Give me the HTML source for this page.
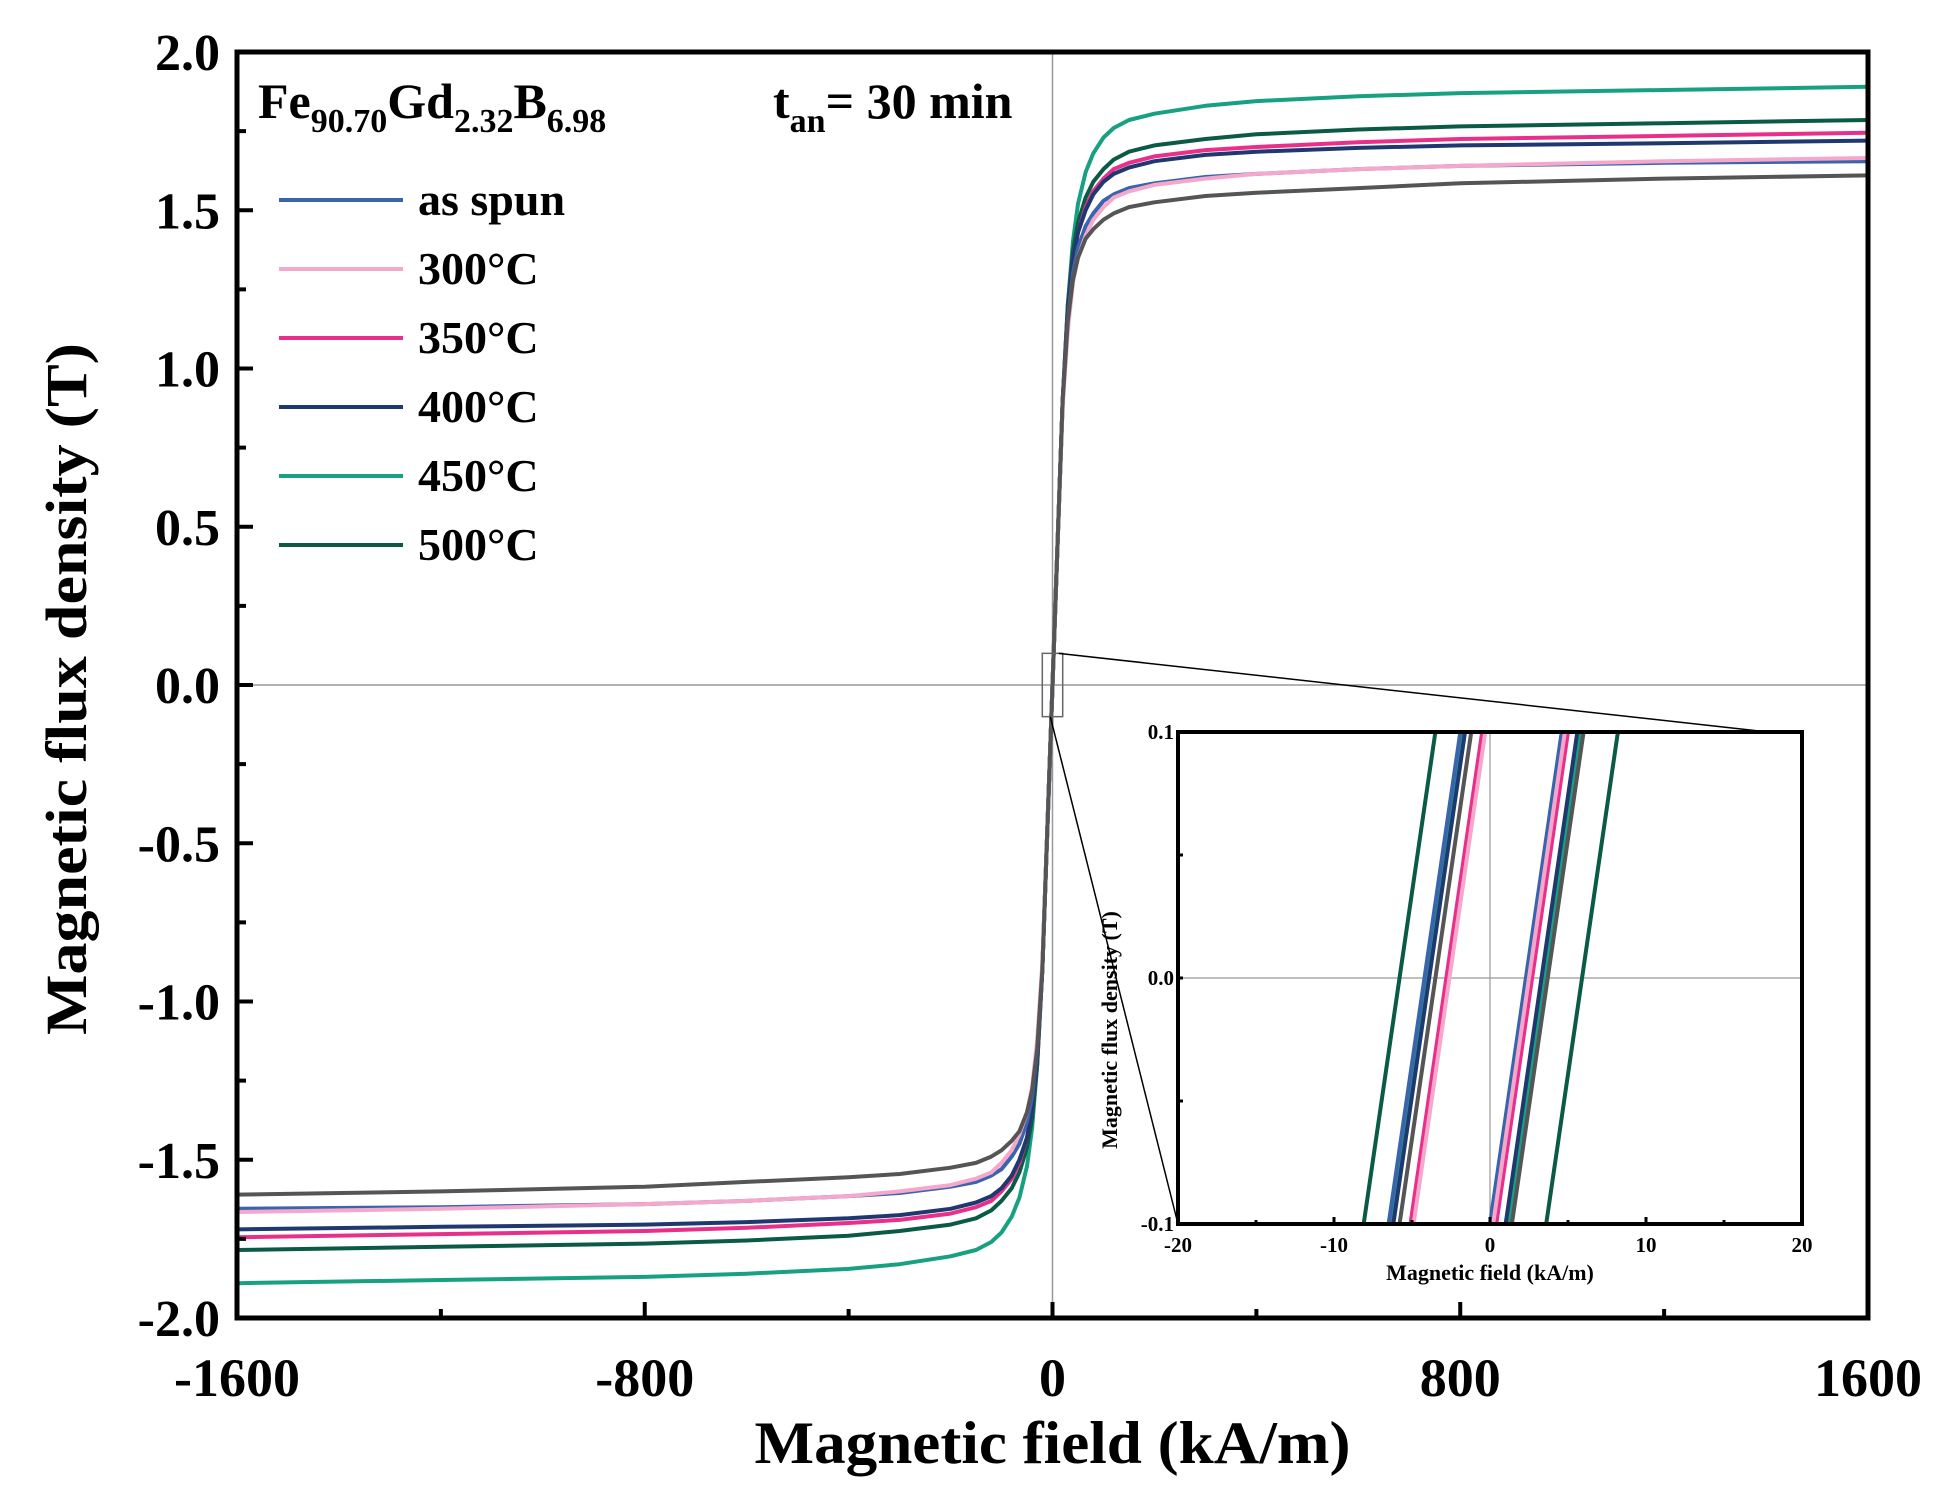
<!DOCTYPE html>
<html><head><meta charset="utf-8"><style>
html,body{margin:0;padding:0;background:#fff}
svg{display:block;font-family:"Liberation Serif",serif;font-weight:bold}
</style></head><body>
<svg id="chart" width="1945" height="1493" viewBox="0 0 1945 1493" xmlns="http://www.w3.org/2000/svg">
<g id="main"></g>
<g id="inset"></g>
</svg>
<script>
// ---- data ----
const seriesNames = ["450°C","500°C","350°C","400°C","as spun","300°C","unlabeled"];
const seriesColors = ["#17a081","#0a5a45","#e8308a","#203870","#3a64ac","#f6a8cc","#555555"];
const fieldGrid = [0,10,20,30,40,50,65,80,100,120,150,200,300,400,600,800,1200,1600];
const b450 = [0,0.45,0.9,1.2,1.4,1.52,1.62,1.68,1.73,1.76,1.785,1.805,1.83,1.845,1.86,1.87,1.88,1.89];
const b500 = [0,0.45,0.9,1.2,1.37,1.46,1.54,1.59,1.63,1.66,1.685,1.705,1.725,1.74,1.755,1.765,1.775,1.785];
const b350 = [0,0.45,0.9,1.18,1.34,1.43,1.51,1.56,1.6,1.63,1.65,1.67,1.69,1.7,1.715,1.725,1.735,1.745];
const b400 = [0,0.45,0.9,1.18,1.34,1.43,1.5,1.55,1.59,1.615,1.635,1.655,1.675,1.685,1.697,1.705,1.712,1.72];
const bAsSpun = [0,0.45,0.9,1.15,1.3,1.38,1.45,1.49,1.53,1.55,1.57,1.585,1.605,1.615,1.63,1.64,1.65,1.655];
const b300 = [0,0.45,0.88,1.12,1.27,1.35,1.42,1.47,1.51,1.54,1.56,1.58,1.6,1.615,1.63,1.64,1.655,1.665];
const bGray = [0,0.45,0.9,1.15,1.28,1.35,1.41,1.44,1.47,1.49,1.51,1.525,1.545,1.555,1.57,1.585,1.6,1.61];
const seriesB = [b450,b500,b350,b400,bAsSpun,b300,bGray];
// inset coercive crossings (kA/m) at B=0
const hcLeft  = [-4.0,-5.8,-2.8,-3.9,-4.2,-2.6,-3.5];
const hcRight = [3.5,5.9,2.7,3.3,2.3,2.5,3.7];
const insetSlope = 0.0435; // T per kA/m
const xTicks = [-1600,-800,0,800,1600];
const yTicks = [2.0,1.5,1.0,0.5,0.0,-0.5,-1.0,-1.5,-2.0];
const insetXTicks = [-20,-10,0,10,20];
const insetYTicks = [0.1,0.0,-0.1];
const legendNames = ["as spun","300°C","350°C","400°C","450°C","500°C"];
const legendColors = ["#3a64ac","#f6a8cc","#e8308a","#203870","#17a081","#0a5a45"];

const NS="http://www.w3.org/2000/svg";
function mk(parent,tag,attrs,text){const e=document.createElementNS(NS,tag);for(const k in attrs)e.setAttribute(k,attrs[k]);if(text!==undefined)e.textContent=text;parent.appendChild(e);return e;}
const main=document.getElementById('main'), inset=document.getElementById('inset');
const L=237,R=1868,T=52,B=1318;
const xs=h=>L+(h+1600)/3200*(R-L);
const ys=v=>T+(2-v)/4*(B-T);
let e;
e=mk(main,'line',{x1:xs(0),y1:T,x2:xs(0),y2:B,stroke:'#999','stroke-width':1.5});

e=mk(main,'line',{x1:L,y1:ys(0),x2:R,y2:ys(0),stroke:'#999','stroke-width':1.5});

seriesB.forEach((arr,i)=>{
  const pts=[];
  for(let k=fieldGrid.length-1;k>=0;k--)pts.push([-fieldGrid[k],-arr[k]]);
  for(let k=1;k<fieldGrid.length;k++)pts.push([fieldGrid[k],arr[k]]);
  const p=mk(main,'polyline',{points:pts.map(q=>xs(q[0]).toFixed(1)+','+ys(q[1]).toFixed(1)).join(' '),fill:'none',stroke:seriesColors[i],'stroke-width':4,'stroke-linejoin':'round'});
  
  
});
e=mk(main,'rect',{x:L,y:T,width:R-L,height:B-T,fill:'none',stroke:'#000','stroke-width':5});

for(let v=-2;v<=2.001;v+=0.25){const maj=Math.abs(v*2-Math.round(v*2))<1e-6;
  e=mk(main,'line',{x1:L,y1:ys(v),x2:L+(maj?16:9),y2:ys(v),stroke:'#000','stroke-width':4});
  }
for(let h=-1600;h<=1600;h+=400){const maj=h%800===0;
  e=mk(main,'line',{x1:xs(h),y1:B,x2:xs(h),y2:B-(maj?16:9),stroke:'#000','stroke-width':4});
  }
yTicks.forEach(v=>{e=mk(main,'text',{x:220,y:ys(v)+18,'text-anchor':'end','font-size':52},v.toFixed(1));
  });
xTicks.forEach(h=>{e=mk(main,'text',{x:xs(h),y:1396,'text-anchor':'middle','font-size':54},String(h));
  });
e=mk(main,'text',{x:xs(0),y:1463,'text-anchor':'middle','font-size':60,textLength:596,lengthAdjust:'spacingAndGlyphs'},'Magnetic field (kA/m)');

e=mk(main,'text',{x:0,y:0,'text-anchor':'middle','font-size':58,textLength:692,lengthAdjust:'spacingAndGlyphs',transform:'translate(86,689) rotate(-90)'},'Magnetic flux density (T)');

e=mk(main,'text',{x:258,y:118,'font-size':50});

e.innerHTML='Fe<tspan font-size="34" dy="14">90.70</tspan><tspan dy="-14">Gd</tspan><tspan font-size="34" dy="14">2.32</tspan><tspan dy="-14">B</tspan><tspan font-size="34" dy="14">6.98</tspan>';
e=mk(main,'text',{x:773,y:118,'font-size':50});

e.innerHTML='t<tspan font-size="34" dy="14">an</tspan><tspan dy="-14">= 30 min</tspan>';
legendNames.forEach((n,i)=>{const y=200+i*69;
  const g=mk(main,'g',{});
  mk(g,'line',{x1:279,y1:y,x2:403,y2:y,stroke:legendColors[i],'stroke-width':4});
  mk(g,'text',{x:418,y:y+15,'font-size':46},n);});
const bx1=xs(-20),bx2=xs(20),by1=ys(0.1),by2=ys(-0.1);
e=mk(main,'rect',{x:bx1,y:by1,width:bx2-bx1,height:by2-by1,fill:'none',stroke:'#666','stroke-width':1.5});

const iL=1178,iR=1802,iT=732,iB=1224;
const ixs=h=>iL+(h+20)/40*(iR-iL);
const iys=v=>iT+(0.1-v)/0.2*(iB-iT);
e=mk(main,'line',{x1:bx2-4,y1:by1,x2:1768,y2:iT,stroke:'#000','stroke-width':1.5});

e=mk(main,'line',{x1:bx1+8,y1:by2,x2:iL,y2:iB,stroke:'#000','stroke-width':1.5});

e=mk(inset,'rect',{x:iL,y:iT,width:iR-iL,height:iB-iT,fill:'#fff'});

e=mk(inset,'line',{x1:ixs(0),y1:iT,x2:ixs(0),y2:iB,stroke:'#999','stroke-width':1.2});

e=mk(inset,'line',{x1:iL,y1:iys(0),x2:iR,y2:iys(0),stroke:'#999','stroke-width':1.2});

[hcLeft,hcRight].forEach((arr,side)=>{arr.forEach((hc,i)=>{
  const h1=hc+(-0.1)/insetSlope,h2=hc+0.1/insetSlope;
  const l=mk(inset,'line',{x1:ixs(h1),y1:iys(-0.1),x2:ixs(h2),y2:iys(0.1),stroke:seriesColors[i],'stroke-width':4});
  
  });});
e=mk(inset,'rect',{x:iL,y:iT,width:iR-iL,height:iB-iT,fill:'none',stroke:'#000','stroke-width':4});

for(let h=-20;h<=20;h+=5){e=mk(inset,'line',{x1:ixs(h),y1:iB,x2:ixs(h),y2:iB-(h%10===0?7:4),stroke:'#000','stroke-width':3});
  }
for(let v=-0.1;v<=0.1001;v+=0.05){e=mk(inset,'line',{x1:iL,y1:iys(v),x2:iL+5,y2:iys(v),stroke:'#000','stroke-width':3});
  }
insetXTicks.forEach(h=>{e=mk(inset,'text',{x:ixs(h),y:iB+28,'text-anchor':'middle','font-size':21},String(h));
  });
insetYTicks.forEach(v=>{e=mk(inset,'text',{x:iL-4,y:iys(v)+7,'text-anchor':'end','font-size':21},v.toFixed(1));
  });
e=mk(inset,'text',{x:ixs(0),y:iB+56,'text-anchor':'middle','font-size':22},'Magnetic field (kA/m)');

e=mk(inset,'text',{x:0,y:0,'text-anchor':'middle','font-size':22,transform:'translate(1117,1030) rotate(-90)'},'Magnetic flux density (T)');

</script>
</body></html>
